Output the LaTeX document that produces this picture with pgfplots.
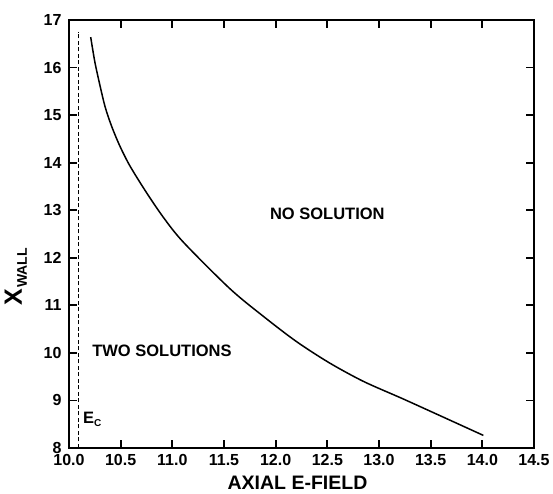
\documentclass[border=0pt]{standalone}
\usepackage{fontspec}
\setmainfont{Liberation Sans}
\usepackage{pgfplots}
\pgfplotsset{compat=1.18}

\begin{document}
\begin{tikzpicture}
\begin{axis}[
  name=ax,
  scale only axis,
  width=465pt, height=428pt,
  xmin=10, xmax=14.5, ymin=8, ymax=17,
  xtick={10,10.5,...,14.5}, ytick={8,...,17},
  tick align=inside, major tick length=8pt,
  axis line style={line width=2.5pt},
  every outer x axis line/.append style={line width=2.5pt},
  every outer y axis line/.append style={line width=2.5pt},
  major tick style={black,line width=1.8pt},
  /pgf/number format/assume math mode=true,
  tick label style={font=\fontsize{16}{16}\selectfont\bfseries},
  xticklabel style={yshift=-3pt, /pgf/number format/fixed,
    /pgf/number format/fixed zerofill, /pgf/number format/precision=1},
  yticklabel style={xshift=-4pt},
  xlabel={AXIAL E-FIELD},
  xlabel style={font=\fontsize{19.5}{19.5}\selectfont\bfseries, yshift=-3pt, xshift=-4pt},
  ylabel={{\fontsize{25}{25}\selectfont X}\,\raisebox{-5pt}{\fontsize{14}{14}\selectfont WALL}},
  ylabel style={font=\bfseries, xshift=-43pt, yshift=10pt},
  clip=false,
]
\addplot[black, line width=1.5pt, smooth] coordinates {
  (10.21,16.64) (10.25,16.12) (10.30,15.62) (10.35,15.17) (10.41,14.78)
  (10.49,14.36) (10.59,13.93) (10.75,13.37) (10.92,12.83) (11.11,12.32)
  (11.557,11.35) (11.88,10.77) (12.20,10.24) (12.52,9.79) (12.85,9.40)
  (13.22,9.045) (13.52,8.75) (14.01,8.265)
};
\addplot[black, line width=1.5pt, dash pattern=on 4pt off 2.5pt] coordinates {(10.09,8) (10.09,16.75)};
\node[font=\fontsize{16.5}{16.5}\selectfont\bfseries] at (axis cs:12.50,12.92) {NO SOLUTION};
\node[font=\fontsize{16.5}{16.5}\selectfont\bfseries] at (axis cs:10.90,10.05) {TWO SOLUTIONS};
\node[font=\fontsize{16.5}{16.5}\selectfont\bfseries, anchor=west, inner sep=0pt] at (axis cs:10.135,8.6) {E\raisebox{-3pt}{\fontsize{10}{10}\selectfont C}};
\end{axis}
\path ([shift={(-69pt,-46pt)}]ax.south west) rectangle ([shift={(19pt,20pt)}]ax.north east);
\end{tikzpicture}
\end{document}
